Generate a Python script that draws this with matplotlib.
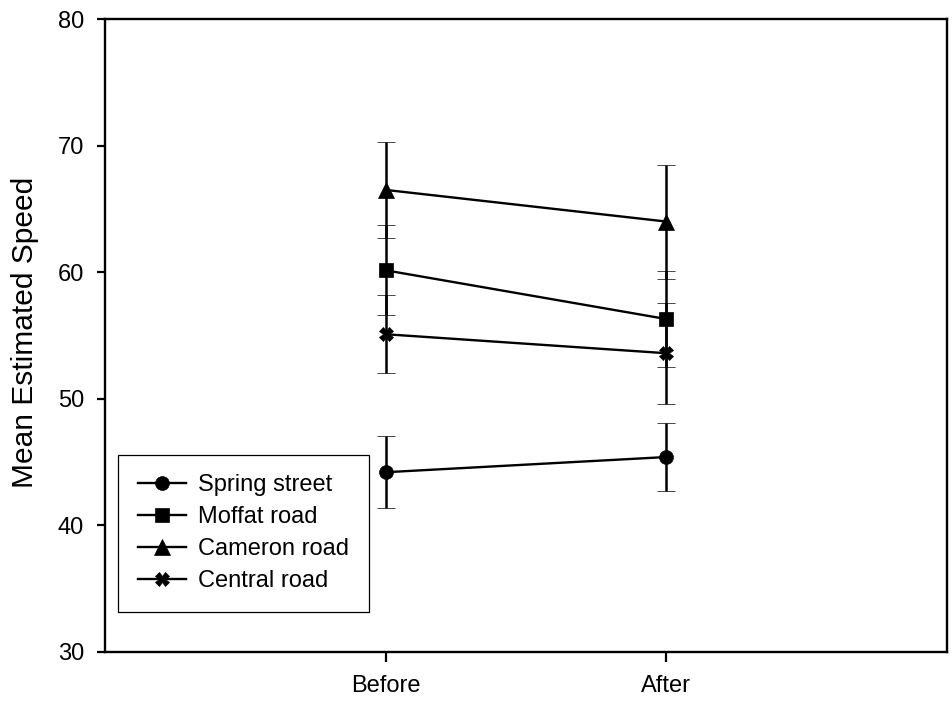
import matplotlib
matplotlib.use("Agg")
import matplotlib.pyplot as plt

plt.rcParams['font.family'] = ['Liberation Sans', 'DejaVu Sans']

# Conditions on the x axis
periods = ["Before", "After"]

# Mean estimated speed per road and its error (half-length of bar)
spring_mean = [44.2, 45.4]
spring_err = [2.85, 2.7]
moffat_mean = [60.15, 56.3]
moffat_err = [3.55, 3.8]
cameron_mean = [66.5, 64.0]
cameron_err = [3.8, 4.5]
central_mean = [55.1, 53.6]
central_err = [3.1, 4.0]

series = [
    ("Spring street", spring_mean, spring_err, "o", 10),
    ("Moffat road", moffat_mean, moffat_err, "s", 10.5),
    ("Cameron road", cameron_mean, cameron_err, "^", 11),
    ("Central road", central_mean, central_err, "X", 10),
]

fig = plt.figure(figsize=(9.53, 7.04), dpi=100)
ax = fig.add_axes([105 / 953, 52 / 704, 842 / 953, 633 / 704])

xpos = list(range(1, len(periods) + 1))
handles = []
for name, mean, err, marker, ms in series:
    cont = ax.errorbar(xpos, mean, yerr=err, color="black", lw=1.7,
                       elinewidth=1.8, capsize=6.5, capthick=1.8,
                       marker=marker, markersize=ms, markeredgewidth=0.5,
                       markerfacecolor="black", markeredgecolor="black",
                       label=name)
    handles.append(cont.lines[0])

ax.set_xlim(0, 3)
ax.set_ylim(30, 80)
ax.set_xticks(xpos)
ax.set_xticklabels(periods)
ax.set_yticks(range(30, 81, 10))

for sp in ax.spines.values():
    sp.set_linewidth(1.7)
    sp.set_color("black")

ax.tick_params(axis="y", direction="out", length=6, width=1.6,
               labelsize=17, pad=9)
ax.tick_params(axis="x", direction="out", length=7.5, width=1.6,
               labelsize=17, pad=9)

ax.set_ylabel("Mean Estimated Speed", fontsize=21.5)
ax.yaxis.set_label_coords(-0.078, 0.505)

leg = ax.legend(handles=handles, labels=[s[0] for s in series],
                loc="lower left", bbox_to_anchor=(0.0154, 0.0632),
                borderaxespad=0, fontsize=17, frameon=True, fancybox=False,
                handlelength=2.05, handletextpad=0.5, labelspacing=0.42,
                borderpad=0.84)
frame = leg.get_frame()
frame.set_edgecolor("black")
frame.set_linewidth(0.9)
frame.set_alpha(1)

fig.savefig("out.png", dpi=100)
